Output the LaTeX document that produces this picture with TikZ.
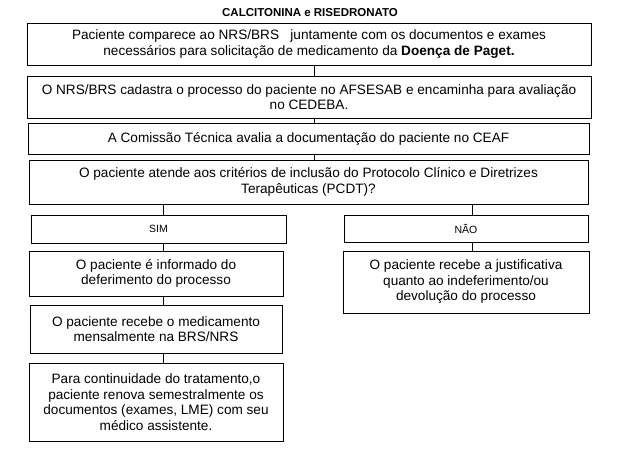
\documentclass[tikz,border=0pt]{standalone}
\usepackage{fontspec}
\setmainfont{Liberation Sans}
\usepackage{tikz}
\usetikzlibrary{positioning, calc}

\tikzset{
    caixa/.style={draw, line width=0.8pt, rectangle, align=center, inner sep=0pt,
        font=\fontsize{13.6}{15.5}\selectfont},
    ramo/.style={caixa, font=\fontsize{10.5}{12}\selectfont},
    liga/.style={line width=0.8pt}
}

\begin{document}
\begin{tikzpicture}[x=1pt, y=-1pt]
    \useasboundingbox (0,0) rectangle (617,468);

    % título
    \node[font=\bfseries\fontsize{11.5}{13}\selectfont] (titulo) at (310,13) {CALCITONINA e RISEDRONATO};

    % coluna principal
    \node[caixa, minimum width=564pt, minimum height=42pt] (b1) at (309,44)
        {Paciente comparece ao NRS/BRS \ \ juntamente com os documentos e exames\\
         necessários para solicitação de medicamento da \textbf{Doença de Paget.}};
    \node[caixa, minimum width=564pt, minimum height=42pt] (b2) at (309,97)
        {O NRS/BRS cadastra o processo do paciente no AFSESAB e encaminha para avaliação\\
         no CEDEBA.};
    \node[caixa, minimum width=561pt, minimum height=31pt] (b3) at (308.5,138.5)
        {A Comissão Técnica avalia a documentação do paciente no CEAF};
    \node[caixa, minimum width=559pt, minimum height=44pt] (b4) at (308.5,182)
        {O paciente atende aos critérios de inclusão do Protocolo Clínico e Diretrizes\\
         Terapêuticas (PCDT)?};

    % sim / não
    \node[ramo, minimum width=255pt, minimum height=28pt] (sim) at (158.5,229) {SIM};
    \node[ramo, minimum width=244pt, minimum height=27pt] (nao) at (466,228.5) {NÃO};

    % lado esquerdo
    \node[caixa, minimum width=254pt, minimum height=45pt] (l1) at (156,273.5)
        {O paciente é informado do\\ deferimento do processo};
    \node[caixa, minimum width=252pt, minimum height=48pt] (l2) at (156,329)
        {O paciente recebe o medicamento\\ mensalmente na BRS/NRS};
    \node[caixa, minimum width=254pt, minimum height=78pt] (l3) at (156,402)
        {Para continuidade do tratamento,o\\ paciente renova semestralmente os\\
         documentos (exames, LME) com seu\\ médico assistente.};

    % lado direito
    \node[caixa, minimum width=246pt, minimum height=62pt] (r1) at (466,282)
        {O paciente recebe a justificativa\\ quanto ao indeferimento/ou\\ devolução do processo};

    % posições das ligações
    \coordinate (cm) at (314,0);
    \coordinate (cs) at (163,0);
    \coordinate (cn) at (472,0);

    % ligações
    \draw[liga] (b1.south -| cm) -- (b2.north -| cm);
    \draw[liga] (b2.south -| cm) -- (b3.north -| cm);
    \draw[liga] (b3.south -| cm) -- (b4.north -| cm);
    \draw[liga] (b4.south -| cs) -- (sim.north -| cs);
    \draw[liga] (b4.south -| cn) -- (nao.north -| cn);
    \draw[liga] (sim.south -| cs) -- (l1.north -| cs);
    \draw[liga] (nao.south -| cn) -- (r1.north -| cn);
    \draw[liga] (l1.south -| cs) -- (l2.north -| cs);
    \draw[liga] (l2.south -| cs) -- (l3.north -| cs);
\end{tikzpicture}
\end{document}
